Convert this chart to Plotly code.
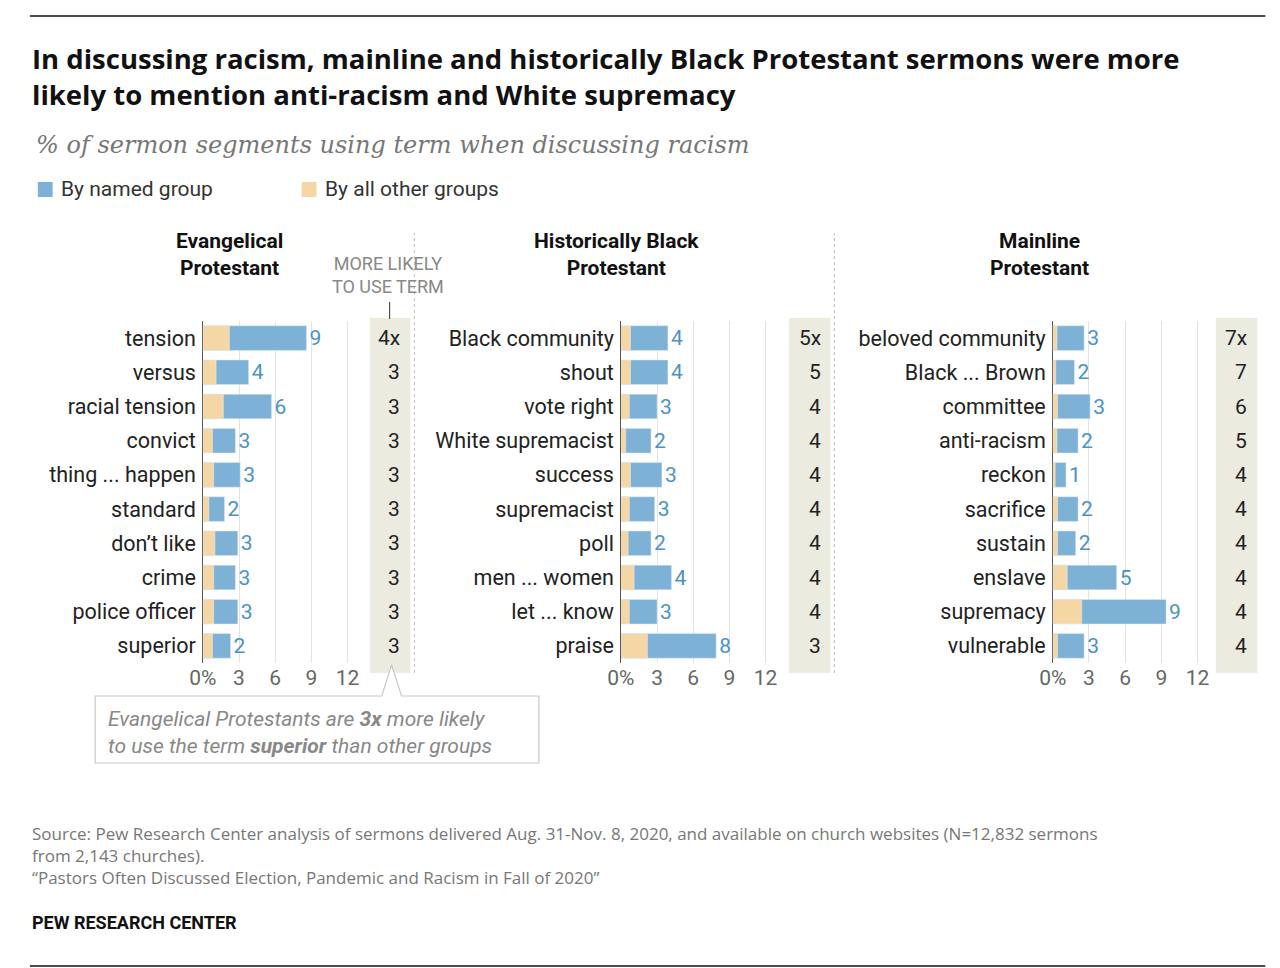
import plotly.graph_objects as go

# data (percent of sermon segments)
evang_terms = ["tension", "versus", "racial tension", "convict", "thing ... happen", "standard",
               "don\u2019t like", "crime", "police officer", "superior"]
evang_named = [8.6, 3.8, 5.7, 2.7, 3.1, 1.8, 2.9, 2.7, 2.9, 2.3]
evang_other = [2.2, 1.1, 1.7, 0.8, 0.9, 0.5, 1.0, 0.9, 0.9, 0.8]
evang_ratio = ["4x", "3", "3", "3", "3", "3", "3", "3", "3", "3"]

hbp_terms = ["Black community", "shout", "vote right", "White supremacist", "success", "supremacist",
             "poll", "men ... women", "let ... know", "praise"]
hbp_named = [3.9, 3.9, 3.0, 2.5, 3.4, 2.8, 2.5, 4.2, 3.0, 7.9]
hbp_other = [0.8, 0.8, 0.7, 0.4, 0.8, 0.7, 0.6, 1.1, 0.7, 2.2]
hbp_ratio = ["5x", "5", "4", "4", "4", "4", "4", "4", "4", "3"]

main_terms = ["beloved community", "Black ... Brown", "committee", "anti-racism", "reckon", "sacrifice",
              "sustain", "enslave", "supremacy", "vulnerable"]
main_named = [2.6, 1.8, 3.1, 2.1, 1.1, 2.1, 1.9, 5.3, 9.4, 2.6]
main_other = [0.35, 0.25, 0.4, 0.35, 0.2, 0.4, 0.4, 1.2, 2.4, 0.4]
main_ratio = ["7x", "7", "6", "5", "4", "4", "4", "4", "4", "4"]

group_titles = ["Evangelical<br>Protestant", "Historically Black<br>Protestant", "Mainline<br>Protestant"]
tick_vals = [0, 3, 6, 9, 12]
tick_text = ["0%", "3", "6", "9", "12"]

W, H = 1280, 968
BLUE = "#7eb1d6"
BEIGE = "#f5d7a6"
BLUE_TXT = "#4a93c6"
FONT = "Roboto"
WIDE = "Open Sans"

def px(x):
    return x / W

def py(y):
    return 1 - y / H

panels = [
    (evang_terms, evang_named, evang_other, evang_ratio, 183, 345, 352, 393, 210),
    (hbp_terms, hbp_named, hbp_other, hbp_ratio, 606, 770, 776, 818, 602),
    (main_terms, main_named, main_other, main_ratio, 1043, 1200, 1208, 1250, 1030),
]
scale = 12.2  # pixels per percentage point

fig = go.Figure()
shapes = []
annotations = []

for i, (terms, named, other, ratio, x0, x1, r0, r1, tx) in enumerate(panels):
    n = i + 1
    xa = "x" if n == 1 else f"x{n}"
    ya = "y" if n == 1 else f"y{n}"
    fig.add_trace(go.Bar(x=named, y=terms, orientation="h", marker_color=BLUE, width=0.72,
                         text=[f"{v:.0f}" for v in named], textposition="outside",
                         textfont=dict(color=BLUE_TXT, size=21, family=FONT),
                         cliponaxis=False, xaxis=xa, yaxis=ya, showlegend=False, hoverinfo="skip"))
    fig.add_trace(go.Bar(x=other, y=terms, orientation="h", marker_color=BEIGE, width=0.72,
                         xaxis=xa, yaxis=ya, showlegend=False, hoverinfo="skip"))
    xkey = "xaxis" if n == 1 else f"xaxis{n}"
    ykey = "yaxis" if n == 1 else f"yaxis{n}"
    fig.layout[xkey] = dict(domain=[px(x0), px(x1)], range=[0, (x1 - x0) / scale], anchor=ya,
                            tickvals=tick_vals, ticktext=tick_text, showgrid=True, gridcolor="#e3e3e3",
                            zeroline=True, zerolinecolor="#555", zerolinewidth=1,
                            tickfont=dict(size=21, color="#666", family=FONT), ticks="")
    fig.layout[ykey] = dict(domain=[py(655), py(313)], anchor=xa, autorange="reversed",
                            tickfont=dict(size=21.5, color="#222", family=FONT), ticks="",
                            ticklabelstandoff=6, showgrid=False)
    # ratio column
    shapes.append(dict(type="rect", xref="paper", yref="paper", x0=px(r0), x1=px(r1),
                       y0=py(665), y1=py(310), fillcolor="#ebebe0", line_width=0, layer="below"))
    for t, r in zip(terms, ratio):
        annotations.append(dict(x=px(r1 - 8), y=t, xref="paper", yref=ya, text=r, showarrow=False,
                                xanchor="right", font=dict(size=21, color="#222", family=FONT)))
    annotations.append(dict(x=px(tx), y=py(246), xref="paper", yref="paper", text=f"<b>{group_titles[i]}</b>",
                            xanchor="center", showarrow=False, font=dict(size=21, color="#111", family=FONT),
                            align="center"))

fig.update_layout(barmode="overlay", bargap=0.25)

# dotted separators
for sx in [397, 822]:
    shapes.append(dict(type="line", xref="paper", yref="paper", x0=px(sx), x1=px(sx), y0=py(665), y1=py(225),
                       line=dict(color="#bbb", width=1, dash="dot")))
# top / bottom rules
for ly in [8, 958]:
    shapes.append(dict(type="line", xref="paper", yref="paper", x0=px(8), x1=px(1258), y0=py(ly), y1=py(ly),
                       line=dict(color="#111", width=1.5)))
# legend swatches
shapes.append(dict(type="rect", xref="paper", yref="paper", x0=px(16), x1=px(31), y0=py(189), y1=py(174),
                   fillcolor=BLUE, line_width=0))
shapes.append(dict(type="rect", xref="paper", yref="paper", x0=px(283), x1=px(298), y0=py(189), y1=py(174),
                   fillcolor=BEIGE, line_width=0))
# "more likely" arrow
shapes.append(dict(type="line", xref="paper", yref="paper", x0=px(372), x1=px(372), y0=py(294), y1=py(311),
                   line=dict(color="#333", width=1)))
# callout box with pointer
shapes.append(dict(type="path", xref="paper", yref="paper",
                   path=f"M {px(74)},{py(688)} L {px(364)},{py(688)} L {px(374)},{py(657)} L {px(384)},{py(688)} "
                        f"L {px(523)},{py(688)} L {px(523)},{py(755)} L {px(74)},{py(755)} Z",
                   fillcolor="white", line=dict(color="#c8c8c8", width=1.2)))

annotations += [
    dict(x=px(8), y=py(30), text="<b>In discussing racism, mainline and historically Black Protestant sermons were more<br>likely to mention anti-racism and White supremacy</b>",
         xanchor="left", yanchor="top", align="left", font=dict(size=27.5, color="#111", family=WIDE)),
    dict(x=px(12), y=py(137), text="<i>% of sermon segments using term when discussing racism</i>",
         xanchor="left", font=dict(size=24, color="#777", family="DejaVu Serif")),
    dict(x=px(37), y=py(181), text="By named group", xanchor="left", font=dict(size=21, color="#333", family=FONT)),
    dict(x=px(305), y=py(181), text="By all other groups", xanchor="left", font=dict(size=21, color="#333", family=FONT)),
    dict(x=px(370), y=py(267), text="MORE LIKELY<br>TO USE TERM", xanchor="center", align="center",
         font=dict(size=18, color="#888", family=FONT)),
    dict(x=px(85), y=py(697), text="<i>Evangelical Protestants are <b>3x</b> more likely</i><br><i>to use the term <b>superior</b> than other groups</i>",
         xanchor="left", yanchor="top", align="left", font=dict(size=21, color="#888", family=FONT)),
    dict(x=px(8), y=py(812), text="Source: Pew Research Center analysis of sermons delivered Aug. 31-Nov. 8, 2020, and available on church websites (N=12,832 sermons<br>from 2,143 churches).<br>\u201cPastors Often Discussed Election, Pandemic and Racism in Fall of 2020\u201d",
         xanchor="left", yanchor="top", align="left", font=dict(size=17, color="#777", family=WIDE)),
    dict(x=px(8), y=py(914), text="<b>PEW RESEARCH CENTER</b>", xanchor="left", font=dict(size=18, color="#111", family=FONT)),
]
for a in annotations:
    a.setdefault("showarrow", False)
    a.setdefault("xref", "paper")
    a.setdefault("yref", "paper")
    a.setdefault("yanchor", "middle")

fig.update_layout(width=W, height=H, margin=dict(l=0, r=0, t=0, b=0), paper_bgcolor="white",
                  plot_bgcolor="white", shapes=shapes, annotations=annotations)

fig.write_html("out.html")
